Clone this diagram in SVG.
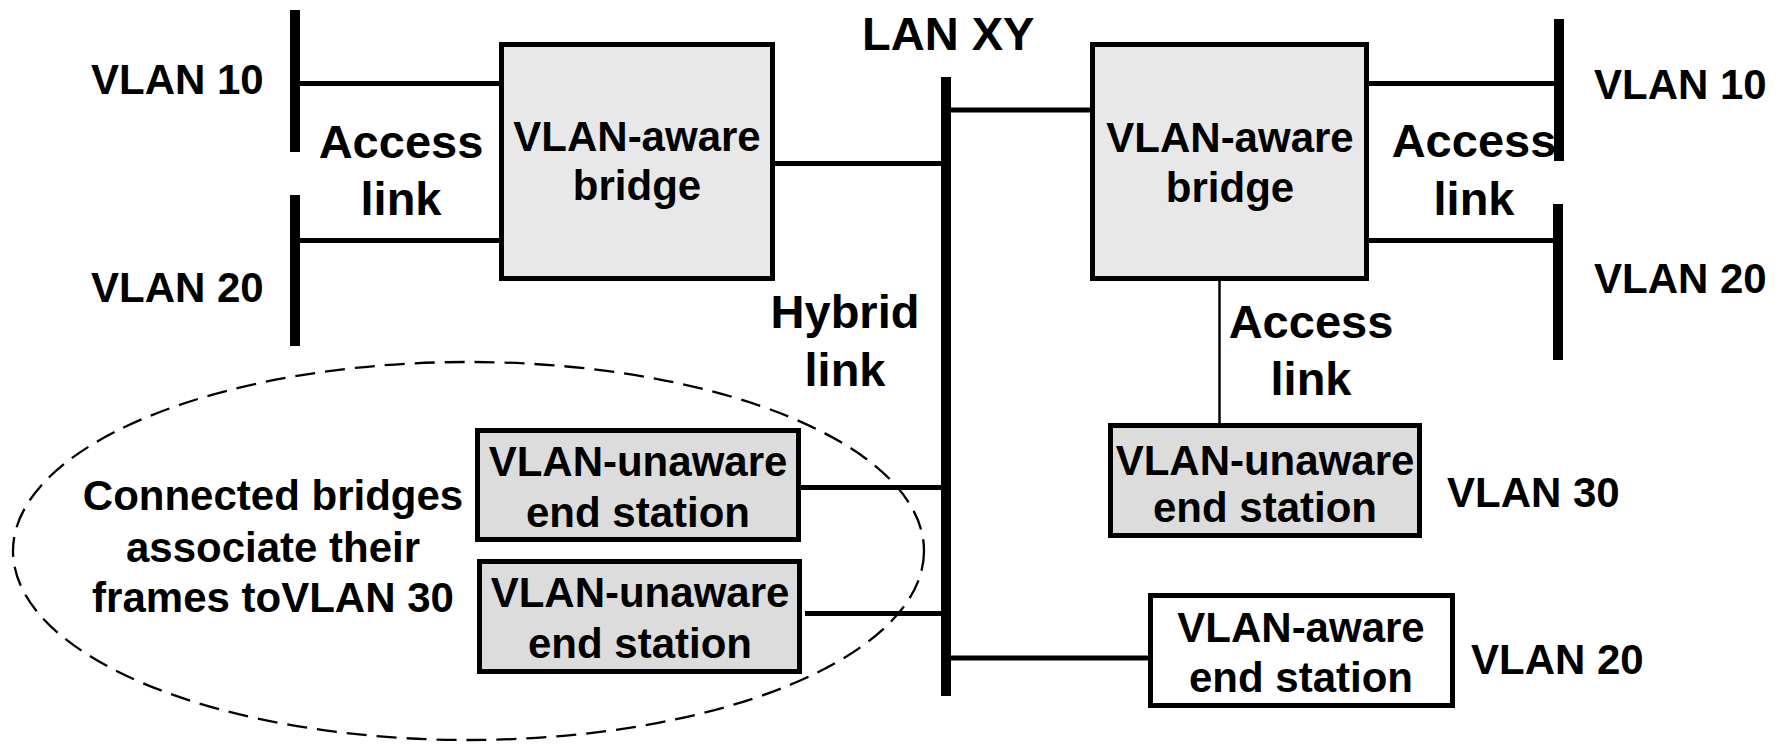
<svg xmlns="http://www.w3.org/2000/svg" width="1783" height="744" viewBox="0 0 1783 744">
<style>
  text { font-family: "Liberation Sans", Arial, sans-serif; font-weight: bold; fill: #000; }
  .t42 { font-size: 42px; }
  .t47 { font-size: 47px; }
  .mid { text-anchor: middle; }
  .box { stroke: #000; stroke-width: 5; }
  .bridge { fill: #e8e8e8; }
  .unaware { fill: #dcdcdc; }
  .aware { fill: #ffffff; }
  .bar { stroke: #000; stroke-width: 10; fill: none; }
  .link { stroke: #000; stroke-width: 5; fill: none; }
  .thin { stroke: #000; stroke-width: 2.5; fill: none; }
</style>
<rect width="1783" height="744" fill="#ffffff"/>

<g id="group-ellipse">
  <ellipse cx="468.5" cy="551" rx="455.5" ry="189" fill="none" stroke="#000" stroke-width="2.3" stroke-dasharray="20 10"/>
</g>

<g id="connectors">
  <line class="link" x1="300" y1="83.5" x2="500" y2="83.5"/>
  <line class="link" x1="300" y1="240.5" x2="500" y2="240.5"/>
  <line class="link" x1="773" y1="163.5" x2="942" y2="163.5"/>
  <line class="link" x1="950" y1="110" x2="1091" y2="110"/>
  <line class="link" x1="1368" y1="83.5" x2="1555" y2="83.5"/>
  <line class="link" x1="1368" y1="240.5" x2="1555" y2="240.5"/>
  <line class="thin" x1="1219.5" y1="280" x2="1219.5" y2="424"/>
  <line class="link" x1="800" y1="487.5" x2="942" y2="487.5"/>
  <line class="link" x1="805" y1="613.5" x2="942" y2="613.5"/>
  <line class="link" x1="950" y1="658" x2="1149" y2="658"/>
</g>

<g id="lan-xy">
  <line class="bar" x1="946" y1="77" x2="946" y2="696"/>
  <text class="t47" x="862" y="50">LAN XY</text>
</g>

<g id="vlan10-left">
  <line class="bar" x1="295" y1="10" x2="295" y2="152"/>
  <text class="t42" x="91" y="94">VLAN 10</text>
</g>
<g id="vlan20-left">
  <line class="bar" x1="295" y1="195" x2="295" y2="346"/>
  <text class="t42" x="91" y="302">VLAN 20</text>
</g>
<g id="vlan10-right">
  <line class="bar" x1="1559" y1="19" x2="1559" y2="161"/>
  <text class="t42" x="1594" y="99">VLAN 10</text>
</g>
<g id="vlan20-right">
  <line class="bar" x1="1558" y1="204" x2="1558" y2="360"/>
  <text class="t42" x="1594" y="293">VLAN 20</text>
</g>

<g id="label-access-left">
  <text class="t47 mid" x="401" y="158">Access</text>
  <text class="t47 mid" x="401" y="215">link</text>
</g>
<g id="label-hybrid">
  <text class="t47 mid" x="845" y="328">Hybrid</text>
  <text class="t47 mid" x="845" y="386">link</text>
</g>
<g id="label-access-right">
  <text class="t47 mid" x="1474" y="157">Access</text>
  <text class="t47 mid" x="1474" y="215">link</text>
</g>
<g id="label-access-bottom">
  <text class="t47 mid" x="1311" y="338">Access</text>
  <text class="t47 mid" x="1311" y="395">link</text>
</g>

<g id="bridge-left">
  <rect class="box bridge" x="501.5" y="44.5" width="271" height="234"/>
  <text class="t42 mid" x="637" y="151">VLAN-aware</text>
  <text class="t42 mid" x="637" y="200">bridge</text>
</g>
<g id="bridge-right">
  <rect class="box bridge" x="1092.5" y="44.5" width="274" height="234"/>
  <text class="t42 mid" x="1230" y="152">VLAN-aware</text>
  <text class="t42 mid" x="1230" y="202">bridge</text>
</g>

<g id="unaware-left-1">
  <rect class="box unaware" x="477.5" y="430.5" width="321" height="109"/>
  <text class="t42 mid" x="638" y="476">VLAN-unaware</text>
  <text class="t42 mid" x="638" y="527">end station</text>
</g>
<g id="unaware-left-2">
  <rect class="box unaware" x="479.5" y="561.5" width="320" height="110"/>
  <text class="t42 mid" x="640" y="607">VLAN-unaware</text>
  <text class="t42 mid" x="640" y="658">end station</text>
</g>
<g id="unaware-right">
  <rect class="box unaware" x="1110.5" y="425.5" width="309" height="110"/>
  <text class="t42 mid" x="1265" y="475">VLAN-unaware</text>
  <text class="t42 mid" x="1265" y="522">end station</text>
  <text class="t42" x="1447" y="507">VLAN 30</text>
</g>
<g id="aware-end-station">
  <rect class="box aware" x="1150.5" y="595.5" width="302" height="110"/>
  <text class="t42 mid" x="1301" y="642">VLAN-aware</text>
  <text class="t42 mid" x="1301" y="692">end station</text>
  <text class="t42" x="1471" y="674">VLAN 20</text>
</g>

<g id="label-connected">
  <text class="t42 mid" x="273" y="510">Connected bridges</text>
  <text class="t42 mid" x="273" y="562">associate their</text>
  <text class="t42 mid" x="273" y="612">frames toVLAN 30</text>
</g>
</svg>
